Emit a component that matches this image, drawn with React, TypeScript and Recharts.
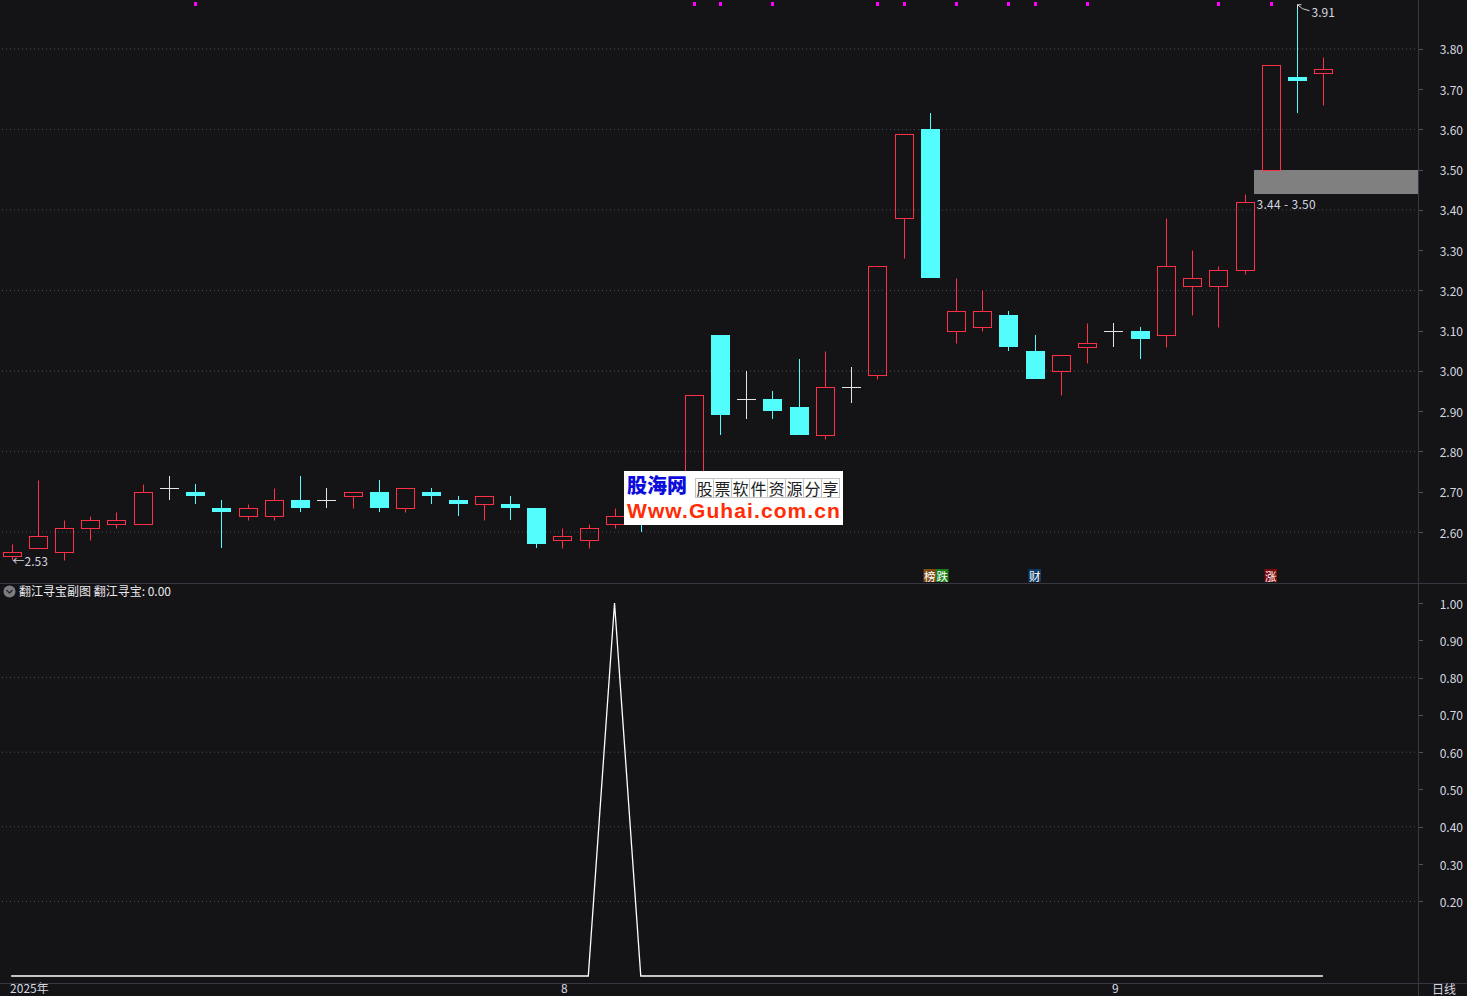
import React from 'react';
import { ComposedChart, Bar, Line, XAxis, YAxis, CartesianGrid } from 'recharts';

// trading days, 2025-07-03 .. 2025-09-11
const dates = [
  '07-03', '07-04', '07-07', '07-08', '07-09', '07-10', '07-11', '07-14', '07-15', '07-16',
  '07-17', '07-18', '07-21', '07-22', '07-23', '07-24', '07-25', '07-28', '07-29', '07-30',
  '07-31', '08-01', '08-04', '08-05', '08-06', '08-07', '08-08', '08-11', '08-12', '08-13',
  '08-14', '08-15', '08-18', '08-19', '08-20', '08-21', '08-22', '08-25', '08-26', '08-27',
  '08-28', '08-29', '09-01', '09-02', '09-03', '09-04', '09-05', '09-08', '09-09', '09-10',
  '09-11',
];

const opens = [
  2.54, 2.56, 2.55, 2.61, 2.62, 2.62, 2.71, 2.7, 2.66, 2.64,
  2.64, 2.68, 2.68, 2.69, 2.7, 2.66, 2.7, 2.68, 2.67, 2.67,
  2.66, 2.58, 2.58, 2.62, 2.65, 2.64, 2.7, 3.09, 2.93, 2.93,
  2.91, 2.84, 2.96, 2.99, 3.38, 3.6, 3.1, 3.11, 3.14, 3.05,
  3.0, 3.06, 3.1, 3.1, 3.09, 3.21, 3.21, 3.25, 3.5, 3.73,
  3.74,
];
const highs = [
  2.57, 2.73, 2.63, 2.64, 2.65, 2.72, 2.74, 2.72, 2.68, 2.67,
  2.71, 2.74, 2.71, 2.7, 2.73, 2.71, 2.71, 2.69, 2.69, 2.69,
  2.66, 2.61, 2.62, 2.66, 2.67, 2.7, 2.94, 3.09, 3.0, 2.95,
  3.03, 3.05, 3.01, 3.26, 3.59, 3.64, 3.23, 3.2, 3.15, 3.09,
  3.04, 3.12, 3.12, 3.11, 3.38, 3.3, 3.26, 3.44, 3.76, 3.91,
  3.78,
];
const lows = [
  2.53, 2.56, 2.53, 2.58, 2.61, 2.62, 2.68, 2.67, 2.56, 2.63,
  2.63, 2.65, 2.66, 2.66, 2.65, 2.65, 2.67, 2.64, 2.63, 2.63,
  2.56, 2.56, 2.56, 2.61, 2.6, 2.63, 2.68, 2.84, 2.88, 2.88,
  2.84, 2.83, 2.92, 2.98, 3.28, 3.23, 3.07, 3.1, 3.05, 2.98,
  2.94, 3.02, 3.06, 3.03, 3.06, 3.14, 3.11, 3.24, 3.5, 3.64,
  3.66,
];
const closes = [
  2.55, 2.59, 2.61, 2.63, 2.63, 2.7, 2.71, 2.69, 2.65, 2.66,
  2.68, 2.66, 2.68, 2.7, 2.66, 2.71, 2.69, 2.67, 2.69, 2.66,
  2.57, 2.59, 2.61, 2.64, 2.63, 2.69, 2.94, 2.89, 2.93, 2.9,
  2.84, 2.96, 2.96, 3.26, 3.59, 3.23, 3.15, 3.15, 3.06, 2.98,
  3.04, 3.07, 3.1, 3.08, 3.26, 3.23, 3.25, 3.42, 3.76, 3.72,
  3.75,
];

// 翻江寻宝 indicator
const signalLine = [
  0, 0, 0, 0, 0, 0, 0, 0, 0, 0,
  0, 0, 0, 0, 0, 0, 0, 0, 0, 0,
  0, 0, 0, 1, 0, 0, 0, 0, 0, 0,
  0, 0, 0, 0, 0, 0, 0, 0, 0, 0,
  0, 0, 0, 0, 0, 0, 0, 0, 0, 0,
  0,
];

// magenta markers on top edge
const markerDays = ['07-14', '08-08', '08-11', '08-13', '08-19', '08-20', '08-22', '08-26', '08-27', '08-29', '09-05', '09-09'];

// event tags on bottom edge
const tagDays = ['08-21', '08-27', '09-09'];
const tagTexts = [['榜', '跌'], ['财'], ['涨']];
const tagColors = [['#7c4a12', '#17801a'], ['#0d3b68'], ['#7d0b0b']];

const gapDay = '09-09';
const gapLow = 3.44;
const gapHigh = 3.5;
const lowDay = '07-03';
const highDay = '09-10';

const priceTicks = [2.6, 2.7, 2.8, 2.9, 3.0, 3.1, 3.2, 3.3, 3.4, 3.5, 3.6, 3.7, 3.8];
const priceGrid = [2.6, 2.8, 3.0, 3.2, 3.4, 3.6, 3.8];
const subTicks = [0.2, 0.3, 0.4, 0.5, 0.6, 0.7, 0.8, 0.9, 1.0];
const subGrid = [0.2, 0.4, 0.6, 0.8];
const dateTicks = ['07-03', '08-01', '09-01'];
const dateTickTexts = ['2025年', '8', '9'];

const data = dates.map((d, i) => ({
  date: d,
  open: opens[i],
  high: highs[i],
  low: lows[i],
  close: closes[i],
  sig: signalLine[i],
}));

const BG = '#141316';
const UP = '#ff2f47';
const DOWN = '#54fdfd';
const FLAT = '#e4e4e4';
const LINE = '#383842';
const GRID = '#4c4c58';
const TXT = '#d4d8e0';
const FONT = '"Noto Sans CJK SC", "Noto Sans", sans-serif';
const PLOT_RIGHT = 1420;

const snap = (v: number) => Math.round(v) + 0.5;

function Candle(props: any) {
  const { x, y, width, height, payload } = props;
  if (!payload || !height) return null;
  const { open, close, high, low, date } = payload;
  const k = height / (high - low);
  const py = (v: number) => y + (high - v) * k;
  const cx = Math.round(x + width / 2) + 0.5;
  const parts: any[] = [];

  if (date === gapDay) {
    const top = Math.round(py(gapHigh));
    const bot = Math.round(py(gapLow));
    parts.push(<rect key="gap" x={cx - 17.5} y={top} width={PLOT_RIGHT - cx + 17.5} height={bot - top} fill="#808080" />);
    parts.push(
      <text key="gapt" x={cx - 15} y={bot + 9} fill={TXT} fontSize={12} fontFamily={FONT} textAnchor="start" dominantBaseline="central" letterSpacing={0.3}>
        {gapLow.toFixed(2)} - {gapHigh.toFixed(2)}
      </text>
    );
  }

  if (close > open) {
    const top = snap(py(close));
    const bot = snap(py(open));
    if (high > close) parts.push(<line key="w1" x1={cx} x2={cx} y1={snap(py(high))} y2={top} stroke={UP} />);
    if (low < open) parts.push(<line key="w2" x1={cx} x2={cx} y1={bot} y2={snap(py(low))} stroke={UP} />);
    parts.push(<rect key="b" x={cx - 9} y={top} width={18} height={Math.max(1, bot - top)} fill="none" stroke={UP} />);
  } else if (close < open) {
    const top = Math.round(py(open));
    const bot = Math.round(py(close));
    parts.push(<line key="w" x1={cx} x2={cx} y1={Math.round(py(high))} y2={Math.round(py(low))} stroke={DOWN} />);
    parts.push(<rect key="b" x={cx - 9.5} y={top} width={19} height={Math.max(2, bot - top)} fill={DOWN} />);
  } else {
    const cy = snap(py(close));
    parts.push(<line key="w" x1={cx} x2={cx} y1={Math.round(py(high))} y2={Math.round(py(low))} stroke={FLAT} />);
    parts.push(<line key="h" x1={cx - 9.5} x2={cx + 9.5} y1={cy} y2={cy} stroke={FLAT} />);
  }

  if (markerDays.includes(date)) {
    parts.push(<rect key="m" x={cx - 1.5} y={2} width={3} height={4} fill="#ff00ff" />);
  }

  const ti = tagDays.indexOf(date);
  if (ti >= 0) {
    tagTexts[ti].forEach((t, j) => {
      const tx = cx - 7 + j * 12.5;
      parts.push(<rect key={'tg' + j} x={tx} y={569} width={12.5} height={13} fill={tagColors[ti][j]} />);
      parts.push(
        <text key={'tt' + j} x={tx + 6.25} y={575.5} fill="#ffffff" fontSize={11.5} fontFamily={FONT} textAnchor="middle" dominantBaseline="central">
          {t}
        </text>
      );
    });
  }

  if (date === lowDay) {
    parts.push(
      <text key="lo" x={cx} y={py(low)} fill={TXT} fontSize={12} fontFamily={FONT} textAnchor="start" dominantBaseline="central">
        {'←' + low.toFixed(2)}
      </text>
    );
  }

  if (date === highDay) {
    const hy = py(high);
    parts.push(<path key="ha" d={`M${cx} ${hy} l4 0 M${cx} ${hy} l0 4 M${cx} ${hy} l5 4 l7 2`} stroke={FLAT} fill="none" strokeWidth={0.9} />);
    parts.push(
      <text key="ht" x={cx + 14} y={hy + 7} fill={TXT} fontSize={12} fontFamily={FONT} textAnchor="start" dominantBaseline="central">
        {high.toFixed(2)}
      </text>
    );
  }

  return <g>{parts}</g>;
}

function ValueTick(props: any) {
  const { x, y, payload } = props;
  return (
    <g>
      <line x1={x} x2={x + 5} y1={snap(y)} y2={snap(y)} stroke="#50505c" />
      <text x={x + 45} y={y} textAnchor="end" dominantBaseline="central" fill={TXT} fontSize={12} fontFamily={FONT}>
        {Number(payload.value).toFixed(2)}
      </text>
    </g>
  );
}

function DateTick(props: any) {
  const { x, y, payload } = props;
  const i = dateTicks.indexOf(payload.value);
  return (
    <g>
      {i > 0 && <line x1={snap(x)} x2={snap(x)} y1={y} y2={y + 6} stroke="#50505c" />}
      <text x={x - 1} y={y + 10} fill={TXT} fontSize={12} fontFamily={FONT} textAnchor="start">
        {dateTickTexts[i]}
      </text>
    </g>
  );
}

export default function App() {
  return (
    <div style={{ position: 'absolute', left: 0, top: 0, width: 1467, height: 996, background: BG, overflow: 'hidden', fontFamily: FONT }}>
      <div style={{ position: 'absolute', left: -2, top: 0 }}>
        <ComposedChart width={1469} height={583} data={data} margin={{ top: 0, right: 0, bottom: 0, left: 0 }}>
          <CartesianGrid vertical={false} horizontalValues={priceGrid} stroke={GRID} strokeDasharray="1 3" />
          <XAxis dataKey="date" hide scale="band" padding={{ left: 0, right: 82 }} />
          <YAxis
            orientation="right"
            type="number"
            width={49}
            domain={[2.4733, 3.9217]}
            allowDataOverflow
            ticks={priceTicks}
            interval={0}
            axisLine={false}
            tickLine={false}
            tickSize={0}
            tickMargin={0}
            tick={(p: any) => <ValueTick {...p} />}
          />
          <Bar dataKey={(d: any) => [d.low, d.high]} barSize={19} shape={(p: any) => <Candle {...p} />} isAnimationActive={false} />
        </ComposedChart>
      </div>

      <div style={{ position: 'absolute', left: -2, top: 583 }}>
        <ComposedChart width={1469} height={413} data={data} margin={{ top: 0, right: 0, bottom: 0, left: 0 }}>
          <CartesianGrid vertical={false} horizontalValues={subGrid} stroke={GRID} strokeDasharray="1 3" />
          <XAxis
            dataKey="date"
            scale="band"
            height={13}
            padding={{ left: 0, right: 82 }}
            ticks={dateTicks}
            interval={0}
            axisLine={false}
            tickLine={false}
            tickSize={0}
            tickMargin={0}
            tick={(p: any) => <DateTick {...p} />}
          />
          <YAxis
            orientation="right"
            type="number"
            width={49}
            domain={[-0.01877, 1.05362]}
            allowDataOverflow
            ticks={subTicks}
            interval={0}
            axisLine={false}
            tickLine={false}
            tickSize={0}
            tickMargin={0}
            tick={(p: any) => <ValueTick {...p} />}
          />
          <Line type="linear" dataKey="sig" stroke="#ffffff" strokeWidth={1.3} dot={false} isAnimationActive={false} />
        </ComposedChart>
      </div>

      {/* frame lines */}
      <div style={{ position: 'absolute', left: 1418, top: 0, width: 1, height: 996, background: LINE }} />
      <div style={{ position: 'absolute', left: 0, top: 583, width: 1467, height: 1, background: LINE }} />
      <div style={{ position: 'absolute', left: 0, top: 983, width: 1467, height: 1, background: LINE }} />

      {/* sub panel header */}
      <svg style={{ position: 'absolute', left: 3, top: 585 }} width={13} height={13}>
        <circle cx={6.5} cy={6.5} r={6} fill="#7c7c82" />
        <path d="M3.5 5 L6.5 8 L9.5 5" stroke="#2a2a2e" strokeWidth={1.4} fill="none" />
      </svg>
      <div style={{ position: 'absolute', left: 19, top: 584, fontSize: 12, lineHeight: '14px', color: '#e8e8ec', whiteSpace: 'nowrap' }}>
        翻江寻宝副图 翻江寻宝: 0.00
      </div>
      <div style={{ position: 'absolute', left: 1432, top: 982, fontSize: 12, lineHeight: '14px', color: TXT }}>日线</div>

      {/* watermark */}
      <div style={{ position: 'absolute', left: 624, top: 471, width: 219, height: 54, background: '#ffffff' }}>
        <div style={{ position: 'absolute', left: 3, top: 3, fontSize: 20, fontWeight: 900, lineHeight: '22px', color: '#0c0cdc' }}>股海网</div>
        <div style={{ position: 'absolute', left: 71, top: 7, display: 'flex' }}>
          {'股票软件资源分享'.split('').map((c, i) => (
            <span
              key={i}
              style={{
                width: 17,
                height: 18,
                border: '1px solid #c4c4c4',
                marginLeft: i ? -1 : 0,
                fontSize: 16,
                lineHeight: '18px',
                textAlign: 'center',
                color: '#222',
                fontFamily: '"Noto Sans CJK SC"',
              }}
            >
              {c}
            </span>
          ))}
        </div>
        <div style={{ position: 'absolute', left: 3, top: 28, fontSize: 21, fontWeight: 700, lineHeight: '24px', color: '#ff2c06', fontFamily: '"Liberation Sans", Arial', letterSpacing: 1.1 }}>
          Www.Guhai.com.cn
        </div>
      </div>
    </div>
  );
}
